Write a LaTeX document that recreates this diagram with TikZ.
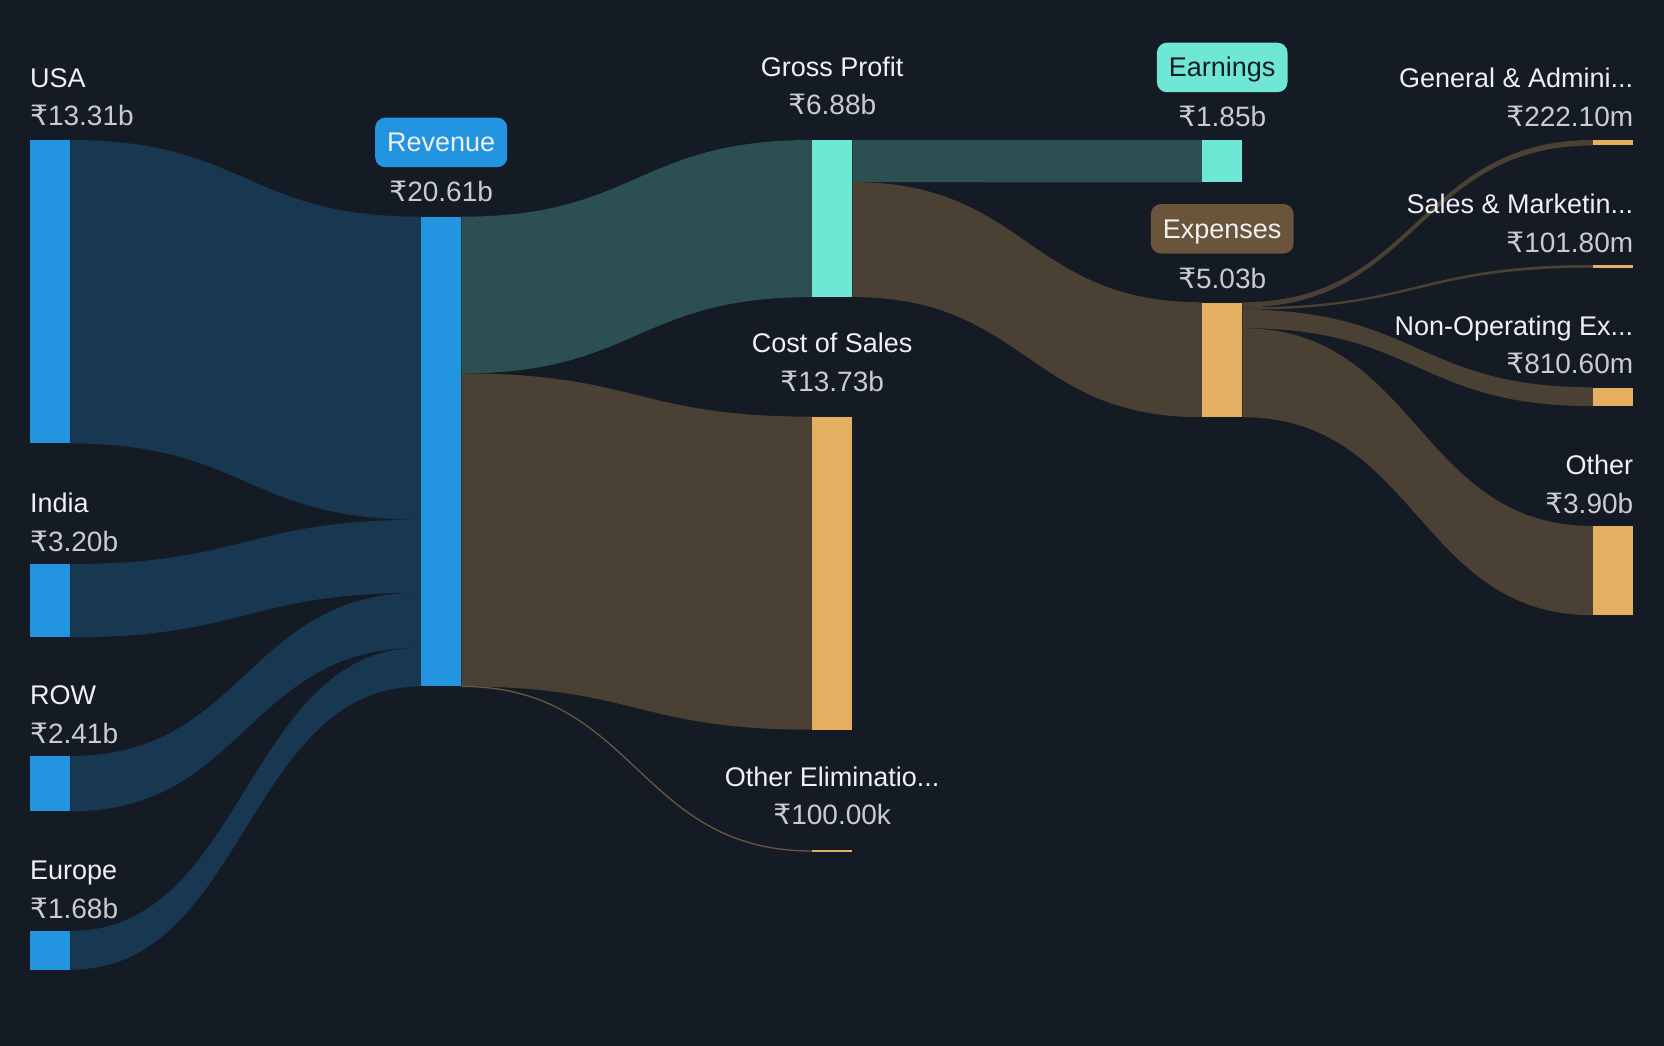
\documentclass[tikz,border=0pt]{standalone}
\usepackage{fontspec}
\setmainfont{Liberation Sans}
\newfontfamily\rupfont{DejaVu Sans}
\usetikzlibrary{calc}
\newcommand\Rs{{\rupfont ₹}}
\definecolor{bg}{HTML}{151B25}
\definecolor{barblue}{HTML}{2394DF}
\definecolor{bandblue}{HTML}{183750}
\definecolor{barteal}{HTML}{6EE7D4}
\definecolor{bandteal}{HTML}{2C4F51}
\definecolor{barorange}{HTML}{E5AF62}
\definecolor{bandbrown}{HTML}{4A4034}
\definecolor{pillbrown}{HTML}{6A553A}
\definecolor{nametext}{HTML}{EEF0F3}
\definecolor{valtext}{HTML}{C8CBD0}
\definecolor{darktext}{HTML}{151B25}
\pgfdeclarelayer{bgl}
\pgfdeclarelayer{bands}
\pgfsetlayers{bgl,bands,main}
\newcommand\band[5]{%
  \fill[#1] let \p1=#2, \p2=#3, \p3=#4, \p4=#5, \n1={(\x1+\x2)/2} in
  (\p1) .. controls (\n1,\y1) and (\n1,\y2) .. (\p2) -- (\p3)
  .. controls (\n1,\y3) and (\n1,\y4) .. (\p4) -- cycle;}
\begin{document}
\begin{tikzpicture}[x=1pt,y=1pt,
  bar/.style={rectangle, draw=none, inner sep=0pt, anchor=north west, minimum width=40pt},
  lbl/.style={inner sep=0pt, font=\fontsize{27}{32}\selectfont},
  namel/.style={lbl, text=nametext},
  vall/.style={inner sep=0pt, font=\fontsize{28}{33}\selectfont, text=valtext},
  pill/.style={lbl, rounded corners=10pt, inner xsep=12pt, inner ysep=0pt,
    text height=34pt, text depth=15.5pt, anchor=base}]
\begin{pgfonlayer}{bgl}
\fill[bg] (0,0) rectangle (1664,-1046);
\end{pgfonlayer}
\useasboundingbox (0,0) rectangle (1664,-1046);
% bars
\node[bar, fill=barblue, minimum height=303.1pt] (usa) at (30,-140) {};
\node[bar, fill=barblue, minimum height=72.9pt] (india) at (30,-564) {};
\node[bar, fill=barblue, minimum height=54.9pt] (row) at (30,-756) {};
\node[bar, fill=barblue, minimum height=38.3pt] (europe) at (30,-931) {};
\node[bar, fill=barblue, minimum height=469.3pt] (rev) at (421,-216.7) {};
\node[bar, fill=barteal, minimum height=156.7pt] (gp) at (812,-140) {};
\node[bar, fill=barorange, minimum height=312.6pt] (cos) at (812,-416.7) {};
\node[bar, fill=barorange, minimum height=2pt] (oe) at (812,-850) {};
\node[bar, fill=barteal, minimum height=42.1pt] (earn) at (1202,-140) {};
\node[bar, fill=barorange, minimum height=114.5pt] (exp) at (1202,-302.3) {};
\node[bar, fill=barorange, minimum height=5.06pt] (ga) at (1593,-140) {};
\node[bar, fill=barorange, minimum height=2.32pt] (sm) at (1593,-265) {};
\node[bar, fill=barorange, minimum height=18.46pt] (nonop) at (1593,-387.3) {};
\node[bar, fill=barorange, minimum height=88.8pt] (other) at (1593,-526) {};
% bands
\begin{pgfonlayer}{bands}
\band{bandblue}{(usa.north east)}{(rev.north west)}{([yshift=-303.1pt]rev.north west)}{(usa.south east)}
\band{bandblue}{(india.north east)}{([yshift=-303.1pt]rev.north west)}{([yshift=-376pt]rev.north west)}{(india.south east)}
\band{bandblue}{(row.north east)}{([yshift=-376pt]rev.north west)}{([yshift=-430.9pt]rev.north west)}{(row.south east)}
\band{bandblue}{(europe.north east)}{([yshift=-430.9pt]rev.north west)}{(rev.south west)}{(europe.south east)}
\band{bandteal}{(rev.north east)}{(gp.north west)}{(gp.south west)}{([yshift=-156.7pt]rev.north east)}
\band{bandbrown}{([yshift=-156.7pt]rev.north east)}{(cos.north west)}{(cos.south west)}{(rev.south east)}
\draw[bandbrown!80!barorange, line width=1.3pt] let \p1=(rev.south east), \p2=([yshift=-1pt]oe.north west), \n1={(\x1+\x2)/2} in
  (\p1) .. controls (\n1,\y1) and (\n1,\y2) .. (\p2);
\band{bandteal}{(gp.north east)}{(earn.north west)}{(earn.south west)}{([yshift=-42.1pt]gp.north east)}
\band{bandbrown}{([yshift=-42.1pt]gp.north east)}{(exp.north west)}{(exp.south west)}{(gp.south east)}
\band{bandbrown}{(exp.north east)}{(ga.north west)}{(ga.south west)}{([yshift=-5.06pt]exp.north east)}
\band{bandbrown}{([yshift=-5.06pt]exp.north east)}{(sm.north west)}{(sm.south west)}{([yshift=-7.38pt]exp.north east)}
\band{bandbrown}{([yshift=-7.38pt]exp.north east)}{(nonop.north west)}{(nonop.south west)}{([yshift=-25.84pt]exp.north east)}
\band{bandbrown}{([yshift=-25.84pt]exp.north east)}{(other.north west)}{(other.south west)}{(exp.south east)}
\end{pgfonlayer}
% left labels
\node[namel, anchor=base west] (usaN) at ([yshift=52pt]usa.north west) {USA};
\node[vall, anchor=base west] (usaV) at ([yshift=14pt]usa.north west) {\Rs13.31b};
\node[namel, anchor=base west] (indiaN) at ([yshift=51.5pt]india.north west) {India};
\node[vall, anchor=base west] (indiaV) at ([yshift=13pt]india.north west) {\Rs3.20b};
\node[namel, anchor=base west] (rowN) at ([yshift=51.5pt]row.north west) {ROW};
\node[vall, anchor=base west] (rowV) at ([yshift=13pt]row.north west) {\Rs2.41b};
\node[namel, anchor=base west] (europeN) at ([yshift=51.5pt]europe.north west) {Europe};
\node[vall, anchor=base west] (europeV) at ([yshift=13pt]europe.north west) {\Rs1.68b};
% revenue
\node[pill, fill=barblue, text=nametext] (revN) at ([yshift=65pt]rev.north) {Revenue};
\node[vall, anchor=base] (revV) at ([yshift=15pt]rev.north) {\Rs20.61b};
% middle
\node[namel, anchor=base] (gpN) at ([yshift=63pt]gp.north) {Gross Profit};
\node[vall, anchor=base] (gpV) at ([yshift=25pt]gp.north) {\Rs6.88b};
\node[namel, anchor=base] (cosN) at ([yshift=64pt]cos.north) {Cost of Sales};
\node[vall, anchor=base] (cosV) at ([yshift=25pt]cos.north) {\Rs13.73b};
\node[namel, anchor=base] (oeN) at ([yshift=63.3pt]oe.north) {Other Eliminatio...};
\node[vall, anchor=base] (oeV) at ([yshift=26pt]oe.north) {\Rs100.00k};
% earnings / expenses
\node[pill, fill=barteal, text=darktext] (earnN) at ([yshift=63.3pt]earn.north) {Earnings};
\node[vall, anchor=base] (earnV) at ([yshift=13.3pt]earn.north) {\Rs1.85b};
\node[pill, fill=pillbrown, text=nametext] (expN) at ([yshift=64.3pt]exp.north) {Expenses};
\node[vall, anchor=base] (expV) at ([yshift=14.3pt]exp.north) {\Rs5.03b};
% right labels
\node[namel, anchor=base east] (gaN) at ([yshift=52pt]ga.north east) {General \& Admini...};
\node[vall, anchor=base east] (gaV) at ([yshift=13pt]ga.north east) {\Rs222.10m};
\node[namel, anchor=base east] (smN) at ([yshift=52pt]sm.north east) {Sales \& Marketin...};
\node[vall, anchor=base east] (smV) at ([yshift=13pt]sm.north east) {\Rs101.80m};
\node[namel, anchor=base east] (nonopN) at ([yshift=52pt]nonop.north east) {Non-Operating Ex...};
\node[vall, anchor=base east] (nonopV) at ([yshift=14pt]nonop.north east) {\Rs810.60m};
\node[namel, anchor=base east] (otherN) at ([yshift=52pt]other.north east) {Other};
\node[vall, anchor=base east] (otherV) at ([yshift=13pt]other.north east) {\Rs3.90b};
\end{tikzpicture}
\end{document}
